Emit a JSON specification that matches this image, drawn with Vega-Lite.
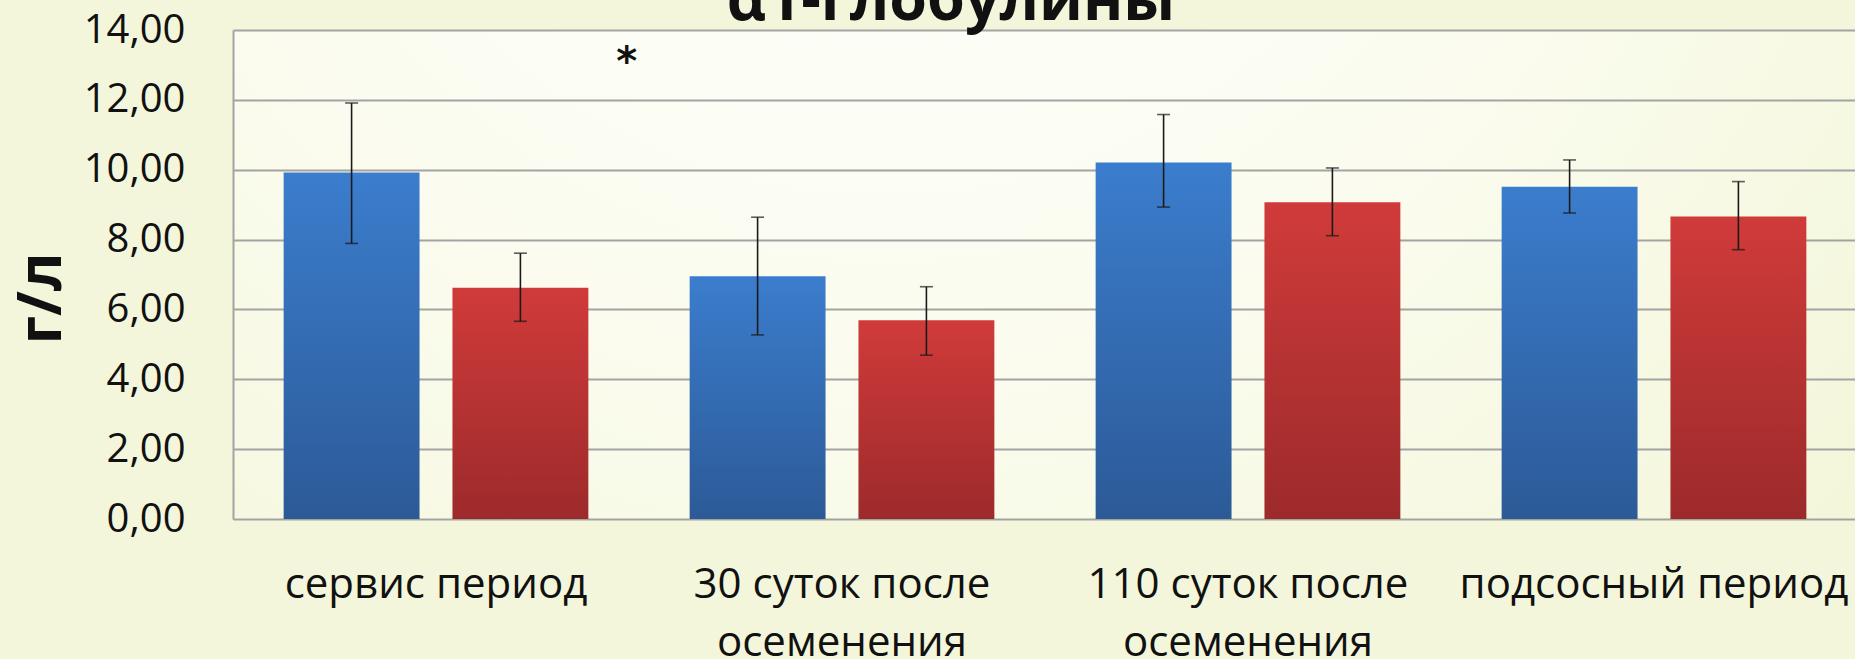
{
  "$schema": "https://vega.github.io/schema/vega-lite/v6.json",
  "autosize": {"type": "none"},
  "width": 1624,
  "height": 489,
  "padding": {"left": 233, "top": 30, "right": 0, "bottom": 140},
  "background": "#f3f6da",
  "title": {
    "text": "α1-глобулины",
    "font": "Open Sans",
    "fontSize": 61,
    "fontWeight": "bold",
    "color": "#111111",
    "anchor": "middle",
    "frame": "group",
    "dx": -94,
    "offset": -23
  },
  "config": {
    "view": {
      "stroke": null,
      "fill": {
        "gradient": "radial",
        "x1": 0.4, "y1": 0.1, "r1": 0,
        "x2": 0.4, "y2": 0.1, "r2": 0.9,
        "stops": [
          {"offset": 0, "color": "#ffffff"},
          {"offset": 0.5, "color": "#fbfcef"},
          {"offset": 1, "color": "#f1f5d4"}
        ]
      }
    },
    "font": "Open Sans"
  },
  "datasets": {
    "bars": [
      {"period": "сервис период", "group": "A", "value": 9.92, "lo": 7.89, "hi": 11.91},
      {"period": "сервис период", "group": "B", "value": 6.62, "lo": 5.66, "hi": 7.61},
      {"period": "30 суток после осеменения", "group": "A", "value": 6.95, "lo": 5.27, "hi": 8.64},
      {"period": "30 суток после осеменения", "group": "B", "value": 5.69, "lo": 4.69, "hi": 6.65},
      {"period": "110 суток после осеменения", "group": "A", "value": 10.21, "lo": 8.93, "hi": 11.58},
      {"period": "110 суток после осеменения", "group": "B", "value": 9.07, "lo": 8.11, "hi": 10.05},
      {"period": "подсосный период", "group": "A", "value": 9.51, "lo": 8.76, "hi": 10.28},
      {"period": "подсосный период", "group": "B", "value": 8.66, "lo": 7.71, "hi": 9.66}
    ],
    "marks": [
      {"period": "сервис период", "y": 13.05, "label": "*"}
    ]
  },
  "data": {"name": "bars"},
  "encoding": {
    "x": {
      "field": "period",
      "type": "nominal",
      "sort": null,
      "scale": {
        "domain": ["сервис период", "30 суток после осеменения", "110 суток после осеменения", "подсосный период"],
        "paddingInner": 0,
        "paddingOuter": 0
      },
      "axis": {
        "title": null,
        "domain": false,
        "ticks": false,
        "grid": false,
        "labelAngle": 0,
        "labelFont": "Open Sans",
        "labelFontSize": 42,
        "labelColor": "#111111",
        "labelBaseline": "alphabetic",
        "labelPadding": 78,
        "labelLineHeight": 58,
        "labelLimit": 0,
        "labelExpr": "indexof(datum.value, 'осеменения') > 0 ? [replace(datum.value, ' осеменения', ''), 'осеменения'] : datum.value"
      }
    },
    "y": {
      "type": "quantitative",
      "scale": {"domain": [0, 14], "nice": false, "zero": true},
      "axis": {
        "values": [0, 2, 4, 6, 8, 10, 12, 14],
        "title": "г/л",
        "titleFont": "Open Sans",
        "titleFontSize": 60,
        "titleFontWeight": "bold",
        "titleColor": "#111111",
        "titlePadding": 10,
        "titleY": 268,
        "labelFont": "Open Sans",
        "labelFontSize": 40,
        "labelColor": "#111111",
        "labelPadding": 48,
        "labelExpr": "replace(format(datum.value, '.2f'), '.', ',')",
        "ticks": false,
        "grid": true,
        "gridColor": "#a3a3a3",
        "gridWidth": 2,
        "domain": true,
        "domainColor": "#a3a3a3",
        "domainWidth": 2
      }
    }
  },
  "layer": [
    {
      "transform": [{"filter": "datum.group == 'A'"}],
      "mark": {
        "type": "bar",
        "fill": {
          "gradient": "linear", "x1": 0, "y1": 0, "x2": 0, "y2": 1,
          "stops": [{"offset": 0, "color": "#3b7dcd"}, {"offset": 1, "color": "#2c5a97"}]
        }
      },
      "encoding": {
        "y": {"field": "value", "type": "quantitative"},
        "xOffset": {"field": "group", "type": "nominal", "scale": {"domain": ["A", "B"], "paddingInner": 0.195, "paddingOuter": 0.3}}
      }
    },
    {
      "transform": [{"filter": "datum.group == 'B'"}],
      "mark": {
        "type": "bar",
        "fill": {
          "gradient": "linear", "x1": 0, "y1": 0, "x2": 0, "y2": 1,
          "stops": [{"offset": 0, "color": "#d03b3a"}, {"offset": 1, "color": "#9d2a2b"}]
        }
      },
      "encoding": {
        "y": {"field": "value", "type": "quantitative"},
        "xOffset": {"field": "group", "type": "nominal", "scale": {"domain": ["A", "B"], "paddingInner": 0.195, "paddingOuter": 0.3}}
      }
    },
    {
      "mark": {"type": "rule", "color": "#1a1a1a", "strokeWidth": 1.6},
      "encoding": {
        "y": {"field": "lo", "type": "quantitative"},
        "y2": {"field": "hi"},
        "xOffset": {"field": "group", "type": "nominal", "scale": {"domain": ["A", "B"], "paddingInner": 0.195, "paddingOuter": 0.3}}
      }
    },
    {
      "mark": {"type": "tick", "color": "#1a1a1a", "thickness": 1.6, "size": 13},
      "encoding": {
        "y": {"field": "hi", "type": "quantitative"},
        "xOffset": {"field": "group", "type": "nominal", "scale": {"domain": ["A", "B"], "paddingInner": 0.195, "paddingOuter": 0.3}}
      }
    },
    {
      "mark": {"type": "tick", "color": "#1a1a1a", "thickness": 1.6, "size": 13},
      "encoding": {
        "y": {"field": "lo", "type": "quantitative"},
        "xOffset": {"field": "group", "type": "nominal", "scale": {"domain": ["A", "B"], "paddingInner": 0.195, "paddingOuter": 0.3}}
      }
    },
    {
      "data": {"name": "marks"},
      "mark": {"type": "text", "font": "DejaVu Sans", "fontSize": 40, "fontWeight": "bold", "color": "#111111", "baseline": "middle", "align": "center"},
      "encoding": {
        "x": {"field": "period", "type": "nominal", "bandPosition": 0.97},
        "y": {"field": "y", "type": "quantitative"},
        "text": {"field": "label"}
      }
    }
  ]
}
